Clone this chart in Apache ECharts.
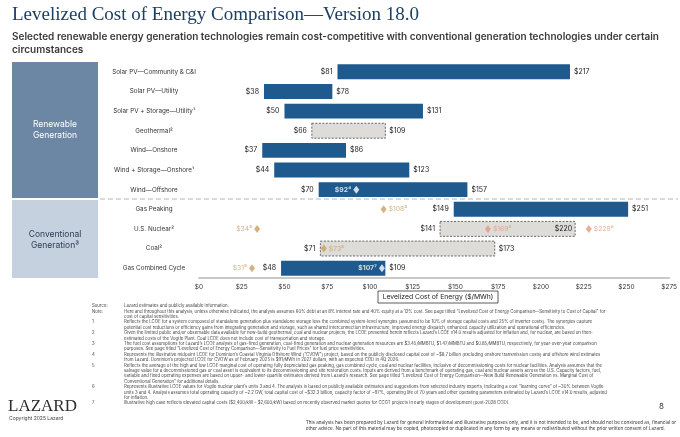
<!DOCTYPE html>
<html><head><meta charset="utf-8">
<script src="https://cdn.jsdelivr.net/npm/echarts@6/dist/echarts.min.js"></script>
<style>html,body{margin:0;padding:0;background:#fff}#chart{width:680px;height:437px}</style>
</head><body><div id="chart"></div>
<script>
// low / high LCOE ($/MWh) per technology; dashed = gray estimate box
const rows = [
    { name: 'Solar PV—Community & C&I', low: 81, high: 217 },
    { name: 'Solar PV—Utility', low: 38, high: 78 },
    { name: 'Solar PV + Storage—Utility¹', low: 50, high: 131 },
    { name: 'Geothermal²', low: 66, high: 109, dashed: true },
    { name: 'Wind—Onshore', low: 37, high: 86 },
    { name: 'Wind + Storage—Onshore¹', low: 44, high: 123 },
    { name: 'Wind—Offshore', low: 70, high: 157 },
    { name: 'Gas Peaking', low: 149, high: 251 },
    { name: 'U.S. Nuclear²', low: 141, high: 220, dashed: true, highInside: true },
    { name: 'Coal²', low: 71, high: 173, dashed: true },
    { name: 'Gas Combined Cycle', low: 48, high: 109 }
];

// diamonds: [row, value, label, colour, label side]
const marks = [
    [6, 92, '$92⁴', '#ffffff', 'left'],
    [7, 108, '$108⁵', '#c9a063', 'right'],
    [8, 34, '$34⁵', '#c9a063', 'left'],
    [8, 169, '$169⁶', '#e39a7d', 'right'],
    [8, 228, '$228⁶', '#e39a7d', 'right'],
    [9, 73, '$73⁵', '#c9a063', 'right'],
    [10, 31, '$31⁵', '#c9a063', 'left'],
    [10, 107, '$107⁷', '#ffffff', 'left']
];

const notes = [
    ['Source:', 'Lazard estimates and publicly available information.'],
    ['Note:', 'Here and throughout this analysis, unless otherwise indicated, the analysis assumes 60% debt at an 8% interest rate and 40% equity at a 12% cost. See page titled “Levelized Cost of Energy Comparison—Sensitivity to Cost of Capital” for'],
    ['', 'cost of capital sensitivities.'],
    ['1', 'Reflects the LCOE for a system composed of standalone generation plus standalone storage less the combined system-level synergies (assumed to be 10% of storage capital costs and 25% of inverter costs). The synergies capture'],
    ['', 'potential cost reductions or efficiency gains from integrating generation and storage, such as shared interconnection infrastructure, improved energy dispatch, enhanced capacity utilization and operational efficiencies.'],
    ['2', 'Given the limited public and/or observable data available for new-build geothermal, coal and nuclear projects, the LCOE presented herein reflects Lazard’s LCOE v14.0 results adjusted for inflation and, for nuclear, are based on then-'],
    ['', 'estimated costs of the Vogtle Plant. Coal LCOE does not include cost of transportation and storage.'],
    ['3', 'The fuel cost assumptions for Lazard’s LCOE analysis of gas-fired generation, coal-fired generation and nuclear generation resources are $3.45/MMBTU, $1.47/MMBTU and $0.85/MMBTU, respectively, for year-over-year comparison'],
    ['', 'purposes. See page titled “Levelized Cost of Energy Comparison—Sensitivity to Fuel Prices” for fuel price sensitivities.'],
    ['4', 'Represents the illustrative midpoint LCOE for Dominion’s Coastal Virginia Offshore Wind (“CVOW”) project, based on the publicly disclosed capital cost of ~$8.7 billion (excluding onshore transmission costs) and offshore wind estimates'],
    ['', 'from Lazard. Dominion’s projected LCOE for CVOW as of February 2025 is $91/MWh in 2027 dollars, with an expected COD in 4Q 2026.'],
    ['5', 'Reflects the average of the high and low LCOE marginal cost of operating fully depreciated gas peaking, gas combined cycle, coal and nuclear facilities, inclusive of decommissioning costs for nuclear facilities. Analysis assumes that the'],
    ['', 'salvage value for a decommissioned gas or coal asset is equivalent to its decommissioning and site restoration costs. Inputs are derived from a benchmark of operating gas, coal and nuclear assets across the U.S. Capacity factors, fuel,'],
    ['', 'variable and fixed operating expenses are based on upper- and lower-quartile estimates derived from Lazard’s research. See page titled “Levelized Cost of Energy Comparison—New Build Renewable Generation vs. Marginal Cost of'],
    ['', 'Conventional Generation” for additional details.'],
    ['6', 'Represents illustrative LCOE values for Vogtle nuclear plant’s units 3 and 4. The analysis is based on publicly available estimates and suggestions from selected industry experts, indicating a cost “learning curve” of ~30% between Vogtle'],
    ['', 'units 3 and 4. Analysis assumes total operating capacity of ~2.2 GW, total capital cost of ~$32.3 billion, capacity factor of ~97%, operating life of 70 years and other operating parameters estimated by Lazard’s LCOE v14.0 results, adjusted'],
    ['', 'for inflation.'],
    ['7', 'Illustrative high case reflects elevated capital costs ($2,400/kW – $2,600/kW) based on recently observed market quotes for CCGT projects in early stages of development (post-2028 COD).']
];

const chart = echarts.init(document.getElementById('chart'));
const sans = 'Inter, "Noto Sans", sans-serif';
const navy = '#1f5a8e';

const graphic = [
    { type: 'text', left: 12, top: 6, style: { text: 'Levelized Cost of Energy Comparison—Version 18.0', font: '19px "Liberation Serif", serif', fill: '#1c3f66' } },
    { type: 'text', left: 12, top: 30, style: { text: 'Selected renewable energy generation technologies remain cost-competitive with conventional generation technologies under certain\ncircumstances', font: '600 10px ' + sans, fill: '#3a3a3a', lineHeight: 13 } },
    { type: 'rect', shape: { x: 12, y: 62, width: 86, height: 136 }, style: { fill: '#6c87a4' } },
    { type: 'text', x: 55, y: 130, style: { text: 'Renewable\nGeneration', font: '8.5px ' + sans, fill: '#fff', align: 'center', verticalAlign: 'middle', lineHeight: 11 } },
    { type: 'rect', shape: { x: 12, y: 200, width: 86, height: 78 }, style: { fill: '#c5d1de' } },
    { type: 'text', x: 55, y: 240, style: { text: 'Conventional\nGeneration³', font: '8.5px ' + sans, fill: '#2a3d55', align: 'center', verticalAlign: 'middle', lineHeight: 11 } },
    { type: 'line', shape: { x1: 100, y1: 199, x2: 678, y2: 199 }, style: { stroke: '#b5b5b5', lineDash: [5, 3], lineWidth: 1 } },
    { type: 'rect', shape: { x: 378, y: 291, width: 120, height: 12 }, style: { fill: '#fff', stroke: '#333', lineWidth: 0.8 } },
    { type: 'text', x: 438, y: 297, style: { text: 'Levelized Cost of Energy ($/MWh)', font: '6.8px ' + sans, fill: '#222', align: 'center', verticalAlign: 'middle' } },
    { type: 'text', left: 8, top: 398, style: { text: 'LAZARD', font: '17px "Liberation Serif", serif', fill: '#2c2c2c' } },
    { type: 'text', left: 9, top: 416, style: { text: 'Copyright 2025 Lazard', font: '5px ' + sans, fill: '#444' } },
    { type: 'text', left: 659, top: 403, style: { text: '8', font: '8px ' + sans, fill: '#333' } },
    { type: 'text', right: 4, top: 420, style: { text: 'This analysis has been prepared by Lazard for general informational and illustrative purposes only, and it is not intended to be, and should not be construed as, financial or\nother advice. No part of this material may be copied, photocopied or duplicated in any form by any means or redistributed without the prior written consent of Lazard.', font: '4.6px ' + sans, fill: '#333', align: 'right', lineHeight: 6 } }
];
notes.forEach((n, i) => {
    const y = 304 + i * 5.4;
    graphic.push({ type: 'text', left: 92, top: y, style: { text: n[0], font: '4.3px ' + sans, fill: '#444' } });
    graphic.push({ type: 'text', left: 124, top: y, style: { text: n[1], font: '4.3px ' + sans, fill: '#444' } });
});

chart.setOption({
    animation: false,
    backgroundColor: '#fff',
    grid: { left: 199, right: 3, top: 62, bottom: 159 },
    xAxis: {
        type: 'value', min: 0, max: 275, interval: 25,
        axisLine: { show: true, lineStyle: { color: '#c8c8c8', width: 2 } },
        axisTick: { show: false },
        splitLine: { show: false },
        axisLabel: { color: '#333', fontSize: 6.5, fontFamily: sans, margin: 6, formatter: v => '$' + v }
    },
    yAxis: {
        type: 'category', inverse: true,
        data: rows.map(r => r.name),
        axisLine: { show: false }, axisTick: { show: false },
        axisLabel: { color: '#333', fontSize: 6.3, fontFamily: sans, align: 'center', margin: 45 }
    },
    series: [
        {
            type: 'custom',
            data: rows.map((r, i) => [i, r.low, r.high]),
            renderItem: (params, api) => {
                const r = rows[api.value(0)];
                const p0 = api.coord([api.value(1), api.value(0)]);
                const p1 = api.coord([api.value(2), api.value(0)]);
                const h = api.size([0, 1])[1] * 0.76;
                const f = '7px ' + sans;
                return {
                    type: 'group',
                    children: [
                        { type: 'rect', shape: { x: p0[0], y: p0[1] - h / 2, width: p1[0] - p0[0], height: h },
                          style: r.dashed ? { fill: '#dedcd8', stroke: '#666', lineDash: [2, 1.5], lineWidth: 1 } : { fill: navy } },
                        { type: 'text', x: p0[0] - 5, y: p0[1], style: { text: '$' + r.low, font: f, fill: '#222', align: 'right', verticalAlign: 'middle' } },
                        { type: 'text', x: r.highInside ? p1[0] - 3 : p1[0] + 4, y: p1[1], style: { text: '$' + r.high, font: f, fill: '#222', align: r.highInside ? 'right' : 'left', verticalAlign: 'middle' } }
                    ]
                };
            },
            z: 2
        },
        {
            type: 'scatter',
            symbol: 'diamond',
            symbolSize: [6, 8],
            data: marks.map(m => ({
                value: [m[1], m[0]],
                itemStyle: { color: m[3] },
                label: { show: true, formatter: m[2], position: m[4], distance: 2, color: m[3], fontSize: 6.8, fontFamily: sans, fontWeight: m[3] === '#ffffff' ? 'bold' : 'normal' }
            })),
            z: 3
        }
    ],
    graphic: graphic
});
</script>
</body></html>
